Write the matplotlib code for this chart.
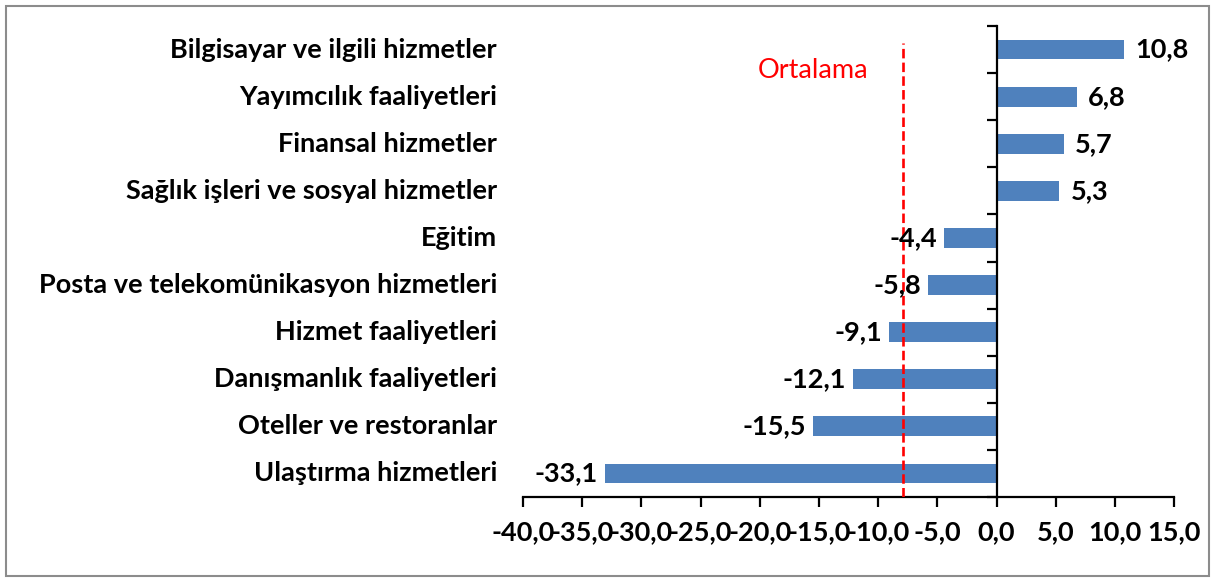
import matplotlib.pyplot as plt
import matplotlib.transforms as mtransforms
import numpy as np

categories = [
    "Bilgisayar ve ilgili hizmetler",
    "Yayımcılık faaliyetleri",
    "Finansal hizmetler",
    "Sağlık işleri ve sosyal hizmetler",
    "Eğitim",
    "Posta ve telekomünikasyon hizmetleri",
    "Hizmet faaliyetleri",
    "Danışmanlık faaliyetleri",
    "Oteller ve restoranlar",
    "Ulaştırma hizmetleri",
]
values = [10.8, 6.8, 5.7, 5.3, -4.4, -5.8, -9.1, -12.1, -15.5, -33.1]
average = -7.9
xticks = [-40, -35, -30, -25, -20, -15, -10, -5, 0, 5, 10, 15]

plt.rcParams["font.family"] = ["Lato", "DejaVu Sans"]
FS = 19.5

fig = plt.figure(figsize=(12.15, 5.81), dpi=100)
ax = fig.add_axes([0.4305, 0.1446, 0.5358, 0.8106])

y = np.arange(len(categories))
ax.barh(y, values, height=0.42, color="#4F81BD", zorder=2)

ax.set_xlim(-40, 15)
ax.set_ylim(len(categories) - 0.5, -0.5)

# Ortalama dashed line
ax.plot([average, average], [len(categories) - 0.5, -0.15], color="#FF0000",
        lw=1.9, dashes=(3.6, 1.6), zorder=3)
ax.text(-15.5, 0.44, "Ortalama", color="#FF0000", fontsize=19.5,
        ha="center", va="center")

# value labels
for yi, v in zip(y, values):
    s = f"{v:.1f}".replace(".", ",")
    if v >= 0:
        ax.annotate(s, (v, yi), xytext=(8, 0), textcoords="offset points",
                    ha="left", va="center", fontsize=FS, fontweight="bold")
    else:
        ax.annotate(s, (v, yi), xytext=(-5, 0), textcoords="offset points",
                    ha="right", va="center", fontsize=FS, fontweight="bold")

# category labels
trans = mtransforms.blended_transform_factory(ax.transAxes, ax.transData)
for yi, c in zip(y, categories):
    ax.text(-0.04, yi, c, transform=trans, ha="right", va="center",
            fontsize=FS, fontweight="bold")

# axes styling
ax.spines["top"].set_visible(False)
ax.spines["right"].set_visible(False)
ax.spines["left"].set_position(("data", 0))
ax.spines["left"].set_linewidth(1.6)
ax.spines["bottom"].set_linewidth(1.6)
ax.set_yticks(np.arange(-0.5, len(categories) + 0.5, 1))
ax.set_yticklabels([])
ax.set_xticks(xticks)
ax.set_xticklabels([f"{t:.1f}".replace(".", ",") for t in xticks],
                   fontsize=FS, fontweight="bold")
ax.tick_params(axis="both", direction="out", length=7, width=1.6)
ax.tick_params(axis="x", pad=10)

# outer frame
fig.patches.append(plt.Rectangle((0.005, 0.008), 0.99, 0.982, transform=fig.transFigure,
                                 fill=False, edgecolor="#8C8C8C", lw=1.5))

fig.savefig("out.png", dpi=100)
